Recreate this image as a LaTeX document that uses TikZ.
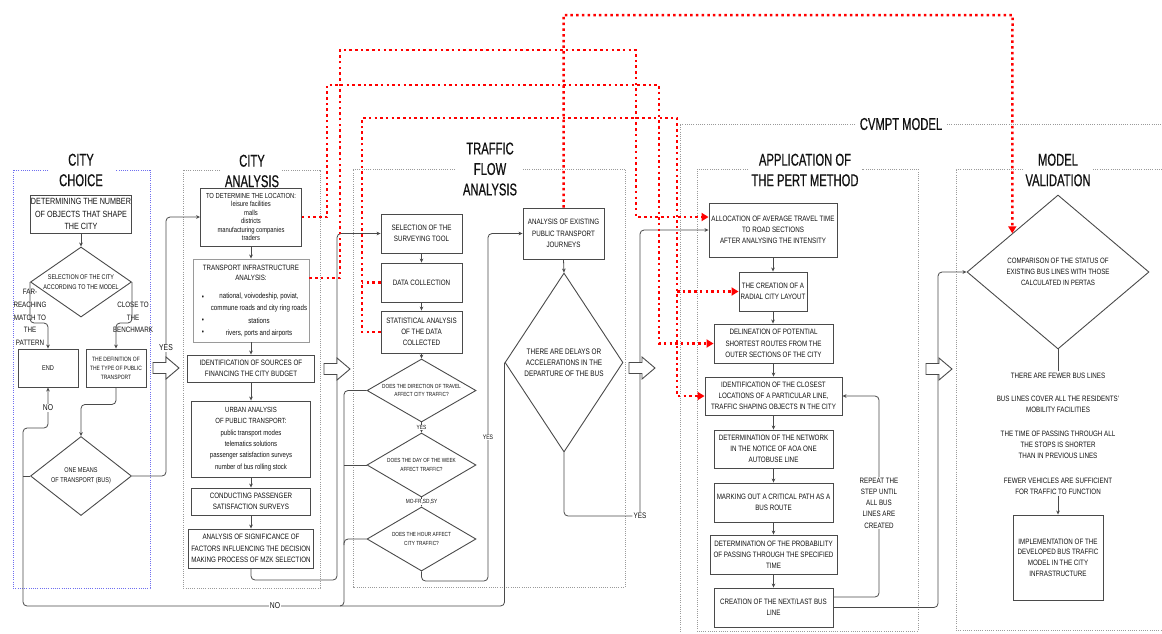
\documentclass[tikz,border=0pt]{standalone}
\usepackage{fontspec}
\setmainfont{Liberation Sans}[FakeStretch=0.8]
\newfontfamily\titlefont{Liberation Sans}[FakeStretch=0.66,FakeBold=0.6]
\usetikzlibrary{arrows.meta,shapes.geometric}
\definecolor{txt}{HTML}{111111}
\definecolor{bc}{HTML}{4A4A4A}
\definecolor{lc}{HTML}{4A4A4A}
\definecolor{gc}{HTML}{9A9A9A}
\definecolor{bl}{HTML}{6F6FF0}
\definecolor{rd}{HTML}{FF0000}
\newcommand\myfs[2]{\fontsize{#1}{#2}\selectfont}
\begin{document}
\begin{tikzpicture}[x=1pt,y=-1pt,
  conn/.style={draw=lc, line width=0.8pt, rounded corners=4pt},
  arr/.style={conn, -{Stealth[length=4pt,width=3.6pt]}},
  rdot/.style={draw=rd, line width=2.5pt, dash pattern=on 2.5pt off 3.2pt},
  rarr/.style={rdot, -{Triangle[length=7pt,width=8pt]}},
  box/.style={draw=bc, line width=0.9pt, inner sep=0.5pt, align=center, text=txt, font=\myfs{7.8}{11.2}},
  sz/.style 2 args={minimum width=#1pt, minimum height=#2pt},
  dia/.style={diamond, draw=bc, line width=0.9pt, inner sep=0pt},
  grp/.style={draw=gc, line width=0.9pt, dash pattern=on 1pt off 1.2pt},
  ttl/.style={font=\titlefont\myfs{17}{20.5}, text=txt, align=center, inner sep=0pt},
  lbl/.style={font=\myfs{7.8}{11.2}, text=txt, align=center, inner sep=1pt},
  onl/.style={lbl, fill=white},
  blk/.pic={\draw[draw=bc, fill=white, line width=0.9pt] (0,-5.5) -- (13,-5.5) -- (13,-11) -- (26,0) -- (13,11) -- (13,5.5) -- (0,5.5) -- cycle;}
]
\useasboundingbox (0,0) rectangle (1162,633);

% ---------- group frames ----------
\draw[grp, draw=bl] (48,170) -- (13,170) -- (13,588) -- (150,588) -- (150,170) -- (116,170);
\draw[grp] (220,170) -- (183,170) -- (183,588) -- (320,588) -- (320,170) -- (282,170);
\draw[grp] (455,169) -- (353,169) -- (353,587) -- (625,587) -- (625,169) -- (523,169);
\draw[grp] (855,124) -- (680,124) -- (680,633);
\draw[grp] (947,124) -- (1162,124);
\draw[grp] (748,169) -- (697,169) -- (697,631) -- (918,631) -- (918,169) -- (862,169);
\draw[grp] (1023,169) -- (956,169) -- (956,630) -- (1162,630);
\draw[grp] (1093,169) -- (1162,169);

% ---------- titles ----------
\node[ttl] (tcc) at (81,170) {CITY\\CHOICE};
\node[ttl] (tca) at (252,171) {CITY\\ANALYSIS};
\node[ttl] (ttf) at (490,169) {TRAFFIC\\FLOW\\ANALYSIS};
\node[ttl] (tcv) at (901,124) {CVMPT MODEL};
\node[ttl] (tpe) at (805,170) {APPLICATION OF\\THE PERT METHOD};
\node[ttl] (tmv) at (1058,170) {MODEL\\VALIDATION};

% ---------- city choice ----------
\node[box, sz={100}{38}, font=\myfs{9}{12.5}] (cc1) at (81,214) {DETERMINING THE NUMBER\\OF OBJECTS THAT SHAPE\\THE CITY};
\node[dia, sz={101}{70}, label={[lbl, font=\myfs{6.8}{10}]center:{SELECTION OF THE CITY\\ACCORDING TO THE MODEL}}] (ccd) at (81,282) {};
\node[box, sz={60}{38}, font=\myfs{7}{10}] (end) at (48,368) {END};
\node[box, sz={60}{38}, font=\myfs{6.2}{9}] (def) at (116,368) {THE DEFINITION OF\\THE TYPE OF PUBLIC\\TRANSPORT};
\node[dia, sz={101}{79}, label={[lbl, font=\myfs{6.9}{9.5}]center:{ONE MEANS\\OF TRANSPORT (BUS)}}] (onem) at (81,476) {};
\node[lbl, font=\myfs{7.8}{12.6}] (far) at (30,317.5) {FAR-\\REACHING\\MATCH TO\\THE\\PATTERN};
\node[lbl, font=\myfs{7.8}{12.6}] (close) at (133,317.5) {CLOSE TO\\THE\\BENCHMARK};

% ---------- city analysis ----------
\node[box, sz={101}{58}, font=\myfs{7.3}{8.5}] (b1) at (251,217) {TO DETERMINE THE LOCATION:\\leisure facilities\\malls\\districts\\manufacturing companies\\traders};
\node[box, sz={116}{83}, draw=gc] (b2) at (251,300.5) {};
\node[lbl, font=\myfs{7.7}{10.5}] (b2h) at (251,273) {TRANSPORT INFRASTRUCTURE\\ANALYSIS:};
\node[lbl, font=\myfs{7.7}{12}] (b2a) at (259,303) {national, voivodeship, poviat,\\commune roads and city ring roads};
\node[lbl, font=\myfs{7.7}{11}] (b2b) at (259,321) {stations};
\node[lbl, font=\myfs{7.7}{11}] (b2c) at (259,333) {rivers, ports and airports};
\node[lbl, font=\myfs{7.7}{11}] (bu1) at (203,298) {•};
\node[lbl, font=\myfs{7.7}{11}] (bu2) at (203,321) {•};
\node[lbl, font=\myfs{7.7}{11}] (bu3) at (203,333) {•};
\node[box, sz={127}{27}] (b3) at (251,368.5) {IDENTIFICATION OF SOURCES OF\\FINANCING THE CITY BUDGET};
\node[box, sz={119}{76}, font=\myfs{7.5}{11.4}] (b4) at (251,439) {URBAN ANALYSIS\\OF PUBLIC TRANSPORT:\\public transport modes\\telematics solutions\\passenger satisfaction surveys\\number of bus rolling stock};
\node[box, sz={119}{27}] (b5) at (251,501.5) {CONDUCTING PASSENGER\\SATISFACTION SURVEYS};
\node[box, sz={125}{39}] (b6) at (251,548.5) {ANALYSIS OF SIGNIFICANCE OF\\FACTORS INFLUENCING THE DECISION\\MAKING PROCESS OF MZK SELECTION};

% ---------- traffic flow ----------
\node[box, sz={81}{39}] (ts1) at (421.5,233.5) {SELECTION OF THE\\SURVEYING TOOL};
\node[box, sz={81}{39}] (ts2) at (421.5,282.5) {DATA COLLECTION};
\node[box, sz={81}{42}] (ts3) at (421.5,332) {STATISTICAL ANALYSIS\\OF THE DATA\\COLLECTED};
\node[dia, sz={109}{63}, label={[lbl, font=\myfs{5.9}{8.8}]center:{DOES THE DIRECTION OF TRAVEL\\AFFECT CITY TRAFFIC?}}] (td1) at (421.5,390.5) {};
\node[dia, sz={109}{64}, label={[lbl, font=\myfs{5.9}{8.8}]center:{DOES THE DAY OF THE WEEK\\AFFECT TRAFFIC?}}] (td2) at (421.5,465) {};
\node[dia, sz={109}{64}, label={[lbl, font=\myfs{5.9}{8.8}]center:{DOES THE HOUR AFFECT\\CITY TRAFFIC?}}] (td3) at (421.5,539) {};
\node[box, sz={81}{51}] (ae) at (563.5,233.5) {ANALYSIS OF EXISTING\\PUBLIC TRANSPORT\\JOURNEYS};
\node[dia, sz={118}{179}, label={[lbl, font=\myfs{8}{11}]center:{THERE ARE DELAYS OR\\ACCELERATIONS IN THE\\DEPARTURE OF THE BUS}}] (dl) at (564,362.5) {};

% ---------- PERT ----------
\node[box, sz={128}{54}] (al) at (773,230) {ALLOCATION OF AVERAGE TRAVEL TIME\\TO ROAD SECTIONS\\AFTER ANALYSING THE INTENSITY};
\node[box, sz={68}{39}] (rad) at (773,291.5) {THE CREATION OF A\\RADIAL CITY LAYOUT};
\node[box, sz={119}{39}] (del) at (773.5,343.5) {DELINEATION OF POTENTIAL\\SHORTEST ROUTES FROM THE\\OUTER SECTIONS OF THE CITY};
\node[box, sz={137}{38}] (idn) at (773.5,396) {IDENTIFICATION OF THE CLOSEST\\LOCATIONS OF A PARTICULAR LINE,\\TRAFFIC SHAPING OBJECTS IN THE CITY};
\node[box, sz={119}{38}] (det) at (773.5,449) {DETERMINATION OF THE NETWORK\\IN THE NOTICE OF AOA ONE\\AUTOBUSE LINE};
\node[box, sz={119}{39}] (mark) at (773.5,502.5) {MARKING OUT A CRITICAL PATH AS A\\BUS ROUTE};
\node[box, sz={127}{39}] (prob) at (773.5,554.5) {DETERMINATION OF THE PROBABILITY\\OF PASSING THROUGH THE SPECIFIED\\TIME};
\node[box, sz={119}{39}] (cre) at (773.5,607.5) {CREATION OF THE NEXT/LAST BUS\\LINE};

% ---------- validation ----------
\node[dia, sz={182}{154}, label={[lbl, font=\myfs{7.7}{10.8}]center:{COMPARISON OF THE STATUS OF\\EXISTING BUS LINES WITH THOSE\\CALCULATED IN PERTAS}}] (cmp) at (1058,272) {};
\node[lbl, inner sep=2.5pt] (v1) at (1058,376) {THERE ARE FEWER BUS LINES};
\node[lbl] (v2) at (1058,404) {BUS LINES COVER ALL THE RESIDENTS'\\MOBILITY FACILITIES};
\node[lbl] (v3) at (1058,445) {THE TIME OF PASSING THROUGH ALL\\THE STOPS IS SHORTER\\THAN IN PREVIOUS LINES};
\node[lbl] (v4) at (1058,486) {FEWER VEHICLES ARE SUFFICIENT\\FOR TRAFFIC TO FUNCTION};
\node[box, sz={90}{85}, font=\myfs{7.8}{10.7}] (imp) at (1058,557.5) {IMPLEMENTATION OF THE\\DEVELOPED BUS TRAFFIC\\MODEL IN THE CITY\\INFRASTRUCTURE};

% ---------- black connectors ----------
\draw[arr] (cc1.south) -- (ccd.north);
\draw[arr] (ccd.west) -- ++(0,41) -| (end.north);
\draw[arr] (ccd.east) -- ++(0,41) -| (def.north);
\draw[arr] (def.south) -- ++(0,17) -| (onem.north);
\draw[arr] (onem.east) -- (166,476) |- (b1.west);
\draw[conn] (onem.west) -- (23,476);
\draw[conn] (td1.west) -- (344,390.5) -- (344,545);
\draw[conn] (td2.west) -- (344,465);
\draw[arr] (td3.west) -- (344,539) -- (344,606) -- (23,606) -- (23,428) -| (end.south);
\draw[conn] (dl.west) |- (340,606);

\draw[arr] (b1.south) -- (b2.north);
\draw[arr] (b2.south) -- (b3.north);
\draw[arr] (b3.south) -- (b4.north);
\draw[arr] (b4.south) -- (b5.north);
\draw[arr] (b5.south) -- (b6.north);
\draw[arr] (b6.south) -- (251,580) -- (337,580) |- (ts1.west);

\draw[arr] (ts1.south) -- (ts2.north);
\draw[arr] (ts2.south) -- (ts3.north);
\draw[arr] (ts3.south) -- (td1.north);
\draw[arr] (td1.south) -- (td2.north);
\draw[arr] (td2.south) -- (td3.north);
\draw[arr] (td3.south) -- (421.5,581) -- (488,581) |- (ae.west);
\draw[arr] (ae.south) -- (dl.north);
\node[lbl, font=\myfs{8}{10}] (yes2) at (640,516) {YES};
\draw[conn] (dl.south) |- (yes2.west);
\draw[arr] (yes2.north) |- (al.west);

\draw[arr] (al.south) -- (al.south |- rad.north);
\draw[arr] (rad.south) -- (rad.south |- del.north);
\draw[arr] (del.south) -- (idn.north);
\draw[arr] (idn.south) -- (det.north);
\draw[arr] (det.south) -- (mark.north);
\draw[arr] (mark.south) -- (prob.north);
\draw[arr] (prob.south) -- (cre.north);
\draw[arr] ([yshift=10.5pt]cre.east) -- (879,597) |- (idn.east);
\draw[arr] (cre.east) -- (938,607.5) |- (cmp.west);

\draw[conn] (cmp.south) -- (v1.north);
\draw[arr] (v4.south) -- (imp.north);

% ---------- labels on connectors ----------
\node[onl, font=\myfs{8.5}{10}] (yes1) at (166,348) {YES};
\node[onl, font=\myfs{8.5}{10}] (no1) at (48,408) {NO};
\node[onl, font=\myfs{8.5}{10}] (no2) at (275,606) {NO};
\node[onl, font=\myfs{6}{8}, inner sep=0.5pt] (yes3) at (421.5,427.5) {YES};
\node[onl, font=\myfs{6}{8}, inner sep=0.5pt] (mofr) at (421.5,502) {MO-FR,SD,SY};
\node[onl, font=\myfs{6.5}{8}] (yes4) at (488,437) {YES};
\node[onl] (rep) at (879,503) {REPEAT THE\\STEP UNTIL\\ALL BUS\\LINES ARE\\CREATED};

% ---------- block arrows ----------
\pic at (153,368) {blk};
\pic at (324,369) {blk};
\pic at (629,368) {blk};
\pic at (926,369) {blk};

% ---------- red dotted connectors ----------
\coordinate (rj) at (677,291.5);
\draw[rarr] (b1.east) -- (327,217) -- (327,85) -- (659,85) -- (659,343.5) -- (del.west);
\draw[rarr] ([yshift=22.5pt]b2.east) -- (340,278) -- (340,50) -- (636,50) -- (636,217) -- ([yshift=13pt]al.west);
\draw[rarr] (ts3.west) -- (362,332) -- (362,118) -- (677,118) -- (677,396) -- (idn.west);
\draw[rdot] (ts2.west) -- (362,282.5);
\draw[rarr] (rj) -- (rad.west);
\draw[rarr] (ae.north) -- (563.5,15) -- (1012.5,15) -- (cmp.north west);
\end{tikzpicture}
\end{document}
